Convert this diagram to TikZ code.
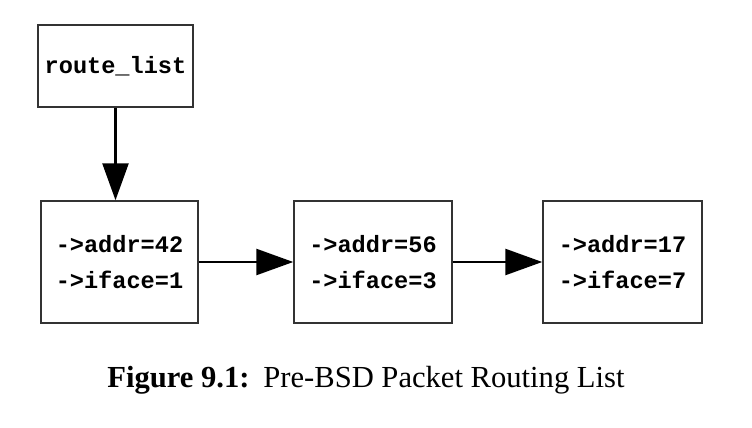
\documentclass[tikz,border=0pt]{standalone}
\usepackage{fontspec}
\setmainfont{Liberation Serif}
\setmonofont{Liberation Mono}
\usetikzlibrary{arrows.meta}
\begin{document}
\begin{tikzpicture}[x=0.5pt,y=-0.5pt,
  boxstyle/.style={draw=black!80, line width=0.75pt, rectangle, inner sep=0pt,
    font=\fontsize{11.8}{18}\selectfont\ttfamily\bfseries, align=left},
  arr/.style={line width=1.3pt, -{Triangle[length=18.5pt,width=13pt]}}]
\useasboundingbox (0,0) rectangle (752,428);
\node[boxstyle, minimum width=77.5pt, minimum height=41pt] (rl) at (115.5,66) {route\_list};
\node[boxstyle, minimum width=78.5pt, minimum height=61pt] (n1) at (119.5,262) {->addr=42\\->iface=1};
\node[boxstyle, minimum width=79pt, minimum height=61pt] (n2) at (373,262) {->addr=56\\->iface=3};
\node[boxstyle, minimum width=79.5pt, minimum height=61pt] (n3) at (622.5,262) {->addr=17\\->iface=7};
\draw[arr] (rl.south) -- (rl.south |- n1.north);
\draw[arr] (n1.east) -- (n2.west);
\draw[arr] (n2.east) -- (n3.west);
\node[font=\fontsize{15.3}{18}\selectfont, inner sep=0pt, anchor=base west] (cap) at (107,387)
  {\textbf{Figure 9.1:}\hspace{0.45em}Pre-BSD Packet Routing List};
\end{tikzpicture}
\end{document}
